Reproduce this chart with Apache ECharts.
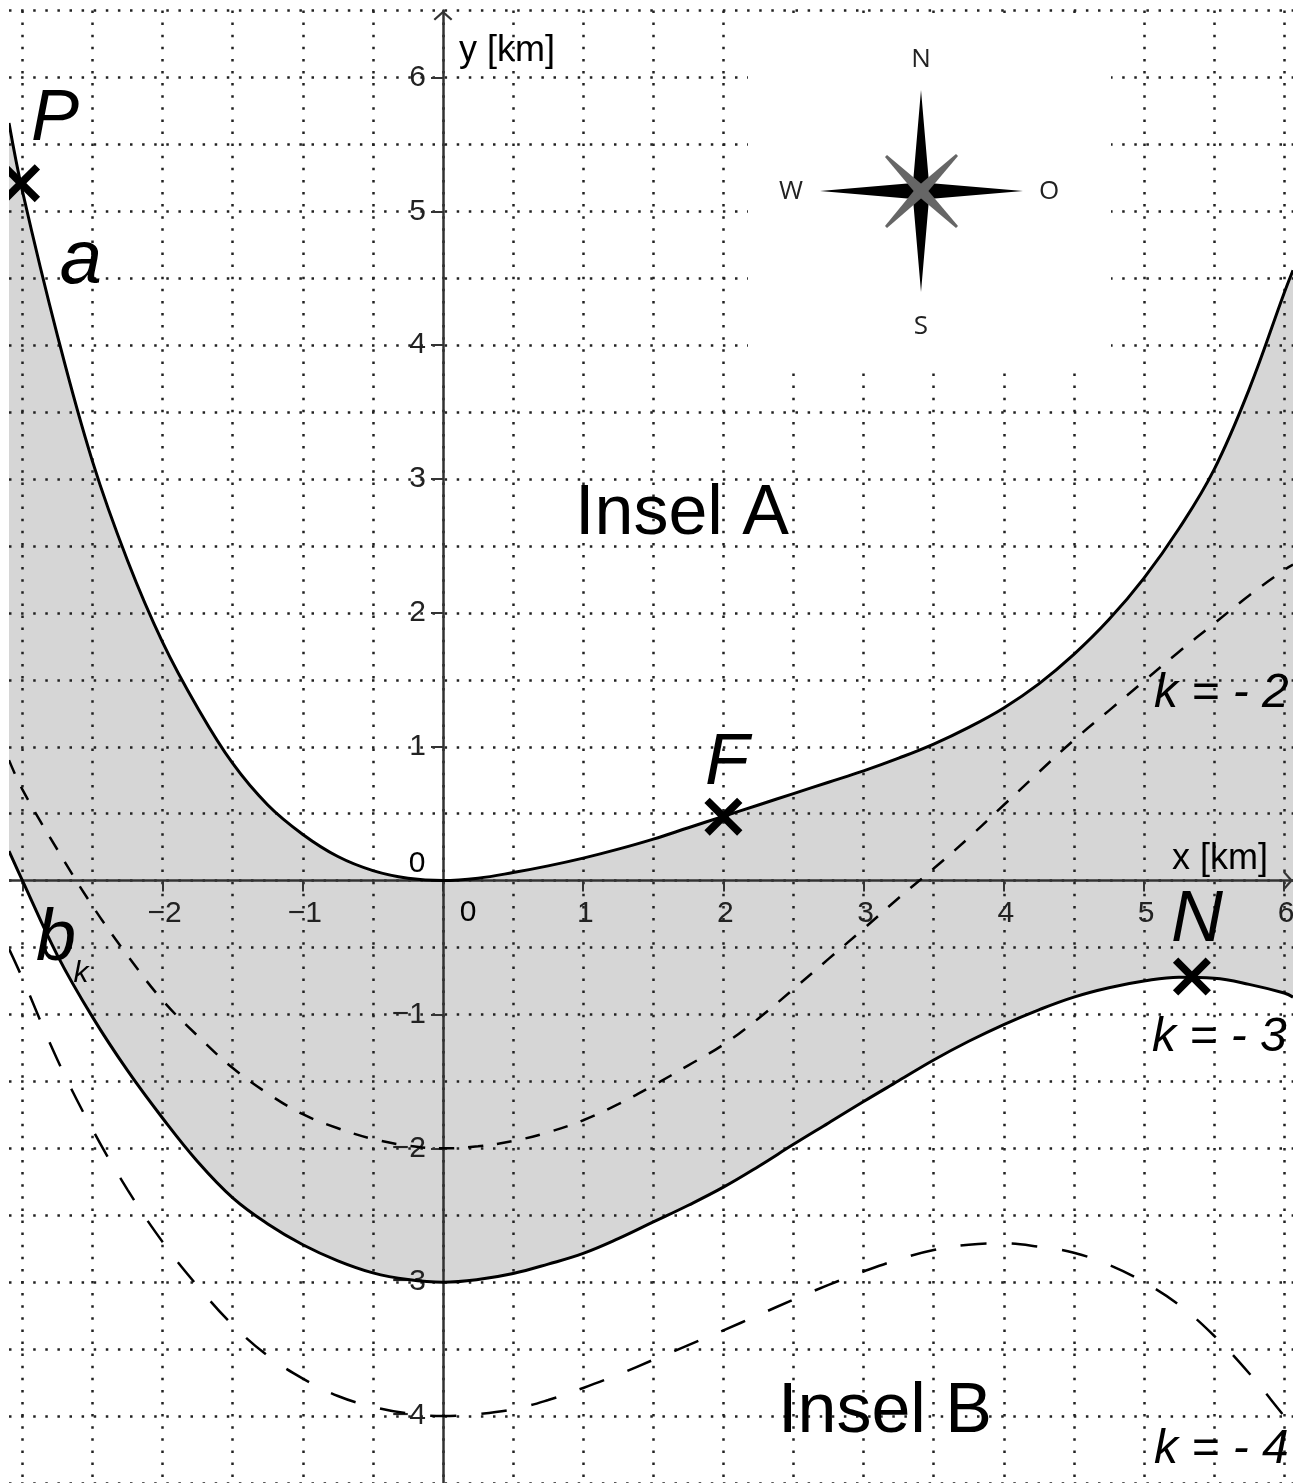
<!DOCTYPE html>
<html>
<head>
<meta charset="utf-8">
<title>Insel A / Insel B</title>
<style>
	html, body { margin: 0; padding: 0; background: #fff; }
	#chart { width: 1303px; height: 1483px; }
</style>
<script src="https://cdn.jsdelivr.net/npm/echarts@6/dist/echarts.min.js"></script>
</head>
<body>
<div id="chart"></div>
<script>
var xs = [-3.096, -3, -2.75, -2.5, -2.25, -2, -1.75, -1.5, -1.25, -1, -0.75, -0.5, -0.25, 0, 0.25, 0.5, 0.75, 1, 1.25, 1.5, 1.75, 2, 2.25, 2.5, 2.75, 3, 3.25, 3.5, 3.75, 4, 4.25, 4.5, 4.75, 5, 5.25, 5.5, 5.75, 6, 6.063];
// curve a (upper shore)
var aY = [5.66, 5.15, 4.07, 3.13, 2.39, 1.78, 1.29, 0.875, 0.565, 0.345, 0.18, 0.075, 0.018, 0, 0.018, 0.06, 0.11, 0.168, 0.235, 0.31, 0.395, 0.48, 0.565, 0.65, 0.735, 0.82, 0.915, 1.02, 1.145, 1.29, 1.47, 1.69, 1.95, 2.26, 2.63, 3.07, 3.67, 4.39, 4.56];
// b_k for k = -3 (solid lower shore)
var b3Y = [0.22, 0, -0.56, -1.02, -1.42, -1.775, -2.1, -2.37, -2.565, -2.72, -2.84, -2.93, -2.98, -3, -2.98, -2.935, -2.865, -2.785, -2.675, -2.55, -2.425, -2.29, -2.135, -1.97, -1.81, -1.65, -1.495, -1.34, -1.2, -1.075, -0.965, -0.87, -0.8, -0.75, -0.722, -0.73, -0.775, -0.84, -0.87];
// b_k for k = -2 (short dashes)
var b2Y = [0.9, 0.68, 0.23, -0.19, -0.56, -0.895, -1.16, -1.4, -1.59, -1.745, -1.85, -1.93, -1.98, -2, -1.985, -1.945, -1.88, -1.79, -1.67, -1.53, -1.38, -1.225, -1.03, -0.81, -0.585, -0.36, -0.13, 0.09, 0.32, 0.565, 0.81, 1.05, 1.27, 1.49, 1.71, 1.92, 2.13, 2.32, 2.36];
// b_k for k = -4 (long dashes)
var b4Y = [-0.51, -0.73, -1.34, -1.86, -2.31, -2.7, -3.03, -3.32, -3.55, -3.72, -3.85, -3.93, -3.98, -4, -3.985, -3.95, -3.88, -3.79, -3.69, -3.58, -3.47, -3.36, -3.245, -3.13, -3.02, -2.92, -2.83, -2.76, -2.72, -2.71, -2.735, -2.78, -2.87, -3, -3.17, -3.4, -3.68, -4, -4.08];
// marked points
var pointNames = ['P', 'F', 'N'];
var pointX = [-3.01, 2, 5.342];
var pointY = [5.21, 0.478, -0.716];
// axis ticks
var xTicks = [-3, -2, -1, 0, 1, 2, 3, 4, 5, 6];
var xLabels = [-2, -1, 1, 2, 3, 4, 5, 6];
var yTicks = [-4, -3, -2, -1, 0, 1, 2, 3, 4, 5, 6];
var yLabels = [-4, -3, -2, -1, 1, 2, 3, 4, 5, 6];

var X_MIN = -3.096, X_MAX = 6.063, Y_MIN = -4.5, Y_MAX = 6.5;

function curve(ys) {
	return xs.map(function (x, i) { return [x, ys[i]]; });
}
function tickText(v) {
	return String(v).replace('-', '\u2212');
}

var chart = echarts.init(document.getElementById('chart'));
var SANS = '"Liberation Sans", Arial, sans-serif';
var xMark = 'path://M14 0L50 36L86 0L100 14L64 50L100 86L86 100L50 64L14 100L0 86L36 50L0 14Z';
var arrowHead = 'path://M10 0L20 9L18.4 10.6L10 3.2L1.6 10.6L0 9Z';
var gridDots = { color: '#222', width: 2.5, type: [2.5, 9.6] };
var axisStroke = { color: '#333', width: 2.5 };

function fillSeries(data, color) {
	return {
		type: 'line', data: data, smooth: 0.4, showSymbol: false, silent: true, z: 1,
		lineStyle: { width: 0 },
		areaStyle: { color: color, opacity: 1, origin: 0 }
	};
}
function curveSeries(data, width, dash) {
	return {
		type: 'line', data: data, smooth: 0.4, showSymbol: false, silent: true, z: 5,
		lineStyle: { color: '#000', width: width, type: dash || 'solid' }
	};
}
function label(text, x, y, size, italic, align) {
	return {
		type: 'text', z: 8, silent: true,
		style: {
			text: text, x: x, y: y, fill: '#000',
			font: (italic ? 'italic ' : '') + size + 'px ' + SANS,
			align: align || 'center', verticalAlign: 'middle'
		}
	};
}
function poly(points, color, z) {
	return { type: 'polygon', z: z, silent: true, shape: { points: points }, style: { fill: color } };
}
function compassText(text, x, y) {
	return {
		type: 'text', z: 7, silent: true,
		style: { text: text, x: x, y: y, fill: '#222', font: '26px "Open Sans", sans-serif', align: 'center', verticalAlign: 'middle' }
	};
}

var option = {
	animation: false,
	backgroundColor: '#fff',
	grid: { left: 9, top: 10.5, width: 1284, height: 1472.5, containLabel: false, outerBoundsMode: 'none' },
	// first pair only draws the half-unit dotted grid, second pair is the visible axes
	xAxis: [{
		type: 'value', min: X_MIN, max: X_MAX, splitNumber: 18, minInterval: 0.5, maxInterval: 0.5, z: 3,
		axisLine: { show: false }, axisTick: { show: false }, axisLabel: { show: false },
		splitLine: { show: true, showMinLine: false, showMaxLine: false, lineStyle: gridDots }
	}, {
		type: 'value', min: X_MIN, max: X_MAX, z: 3,
		position: 'bottom', offset: -602.5,
		axisLine: { onZero: false, symbol: ['none', arrowHead], symbolSize: [20, 10], symbolOffset: [0, -5], lineStyle: axisStroke },
		axisTick: { customValues: xTicks, length: 11, lineStyle: { color: '#333', width: 2 } },
		axisLabel: {
			customValues: xLabels, margin: 18, fontFamily: SANS, fontSize: 30, color: '#222', padding: [0, 0, 0, 4],
			formatter: tickText
		},
		splitLine: { show: false }
	}],
	yAxis: [{
		type: 'value', min: Y_MIN, max: Y_MAX, interval: 0.5, z: 3,
		axisLine: { show: false }, axisTick: { show: false }, axisLabel: { show: false },
		splitLine: { show: true, lineStyle: gridDots }
	}, {
		type: 'value', min: Y_MIN, max: Y_MAX, z: 3,
		position: 'left', offset: -434,
		axisLine: { onZero: false, symbol: ['none', arrowHead], symbolSize: [20, 10], symbolOffset: [0, -5], lineStyle: axisStroke },
		axisTick: { customValues: yTicks, length: 12, lineStyle: { color: '#333', width: 2 } },
		axisLabel: { customValues: yLabels, margin: 17, fontFamily: SANS, fontSize: 30, color: '#222', formatter: tickText },
		splitLine: { show: false }
	}],
	series: [
		fillSeries(curve(aY), '#d6d6d6'),
		fillSeries(curve(b3Y), '#d6d6d6'),
		fillSeries(curve(b3Y).slice(0, 2), '#fff'),
		curveSeries(curve(aY), 3),
		curveSeries(curve(b3Y), 3),
		curveSeries(curve(b2Y), 2.5, [15, 14]),
		curveSeries(curve(b4Y), 2.5, [26, 25]),
		{
			type: 'scatter', name: 'points', z: 6, silent: true,
			data: pointNames.map(function (n, i) { return { name: n, value: [pointX[i], pointY[i]] }; }),
			symbol: xMark, symbolSize: 38, itemStyle: { color: '#000', opacity: 1 }
		}
	],
	graphic: [
		// white box behind the compass, it hides the grid
		{ type: 'rect', z: 4, silent: true, shape: { x: 748, y: 22, width: 363, height: 348 }, style: { fill: '#fff' } },
		poly([[921, 90], [929, 183], [1023, 191], [929, 199], [921, 292], [913, 199], [820, 191], [913, 183]], '#000', 5),
		poly([[885, 157], [887, 155], [925, 187], [958, 226], [956, 228], [917, 195]], '#666', 6),
		poly([[956, 154], [958, 156], [925, 195], [887, 228], [885, 226], [917, 187]], '#666', 6),
		compassText('N', 921, 60),
		compassText('W', 791, 192),
		compassText('O', 1049, 192),
		compassText('S', 921, 327),
		label('y [km]', 507, 51, 36),
		label('x [km]', 1220, 859, 36),
		label('0', 417, 864, 30),
		label('0', 468, 913, 30),
		label('Insel A', 682, 515, 70),
		label('Insel B', 885, 1413, 70),
		label('P', 55, 120, 72, true),
		label('a', 81, 262, 76, true),
		label('F', 727, 764, 72, true),
		label('N', 1197, 921, 72, true),
		label('b', 56, 940, 72, true),
		label('k', 81, 974, 30, true),
		label('k = - 2', 1154, 694, 48, true, 'left'),
		label('k = - 3', 1152, 1038, 48, true, 'left'),
		label('k = - 4', 1154, 1450, 48, true, 'left'),
		// page margins left and right of the plot
		{ type: 'rect', z: 10, silent: true, shape: { x: 0, y: 0, width: 9, height: 1483 }, style: { fill: '#fff' } },
		{ type: 'rect', z: 10, silent: true, shape: { x: 1293, y: 0, width: 10, height: 1483 }, style: { fill: '#fff' } }
	]
};
chart.setOption(option);
</script>
</body>
</html>
